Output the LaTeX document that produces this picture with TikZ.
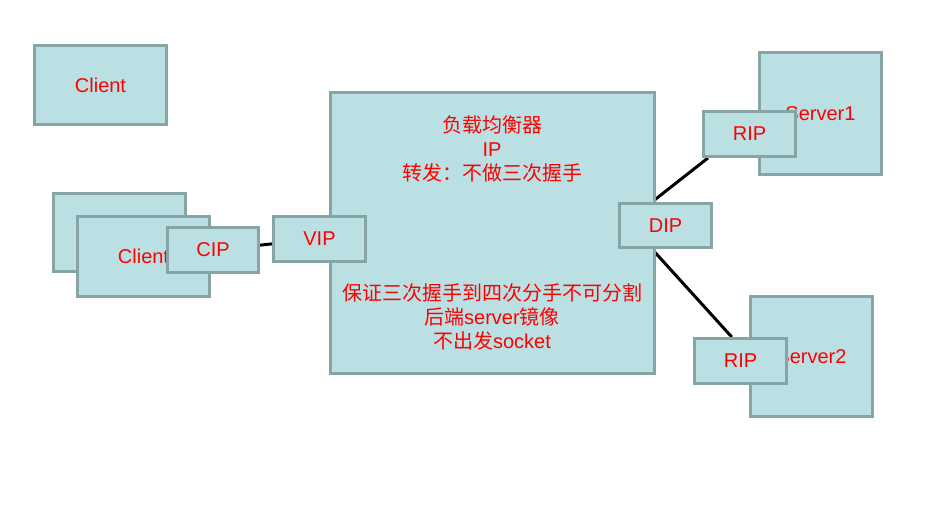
\documentclass[tikz,border=0pt]{standalone}
\usepackage{fontspec}
\setmainfont{Liberation Sans}
\newfontfamily\cjk{Noto Sans CJK SC}
\usetikzlibrary{calc}
\definecolor[named]{BoxFill}{RGB}{187,224,227}
\definecolor[named]{BoxLine}{RGB}{135,165,165}
\definecolor[named]{TextRed}{RGB}{255,0,0}
\pgfdeclarelayer{wires}
\pgfsetlayers{wires,main}
\newcommand{\boxfont}{\fontsize{20}{24}\selectfont}
\tikzset{
  box/.style={draw=BoxLine,fill=BoxFill,line width=3pt,rectangle,
    text=TextRed,font=\boxfont,inner sep=0pt},
  port/.style={box,minimum width=92pt,minimum height=45pt},
  note/.style={text=TextRed,font=\boxfont,align=center,inner sep=0pt},
  wire/.style={line width=3pt,black}
}

\begin{document}
\begin{tikzpicture}[x=1pt,y=-1pt]
  \path[use as bounding box] (0,0) rectangle (943,519);

  % Clients {{{
  \node[box,minimum width=132pt,minimum height=79pt] (client1) at (100.5,85) {Client};
  \node[box,minimum width=132pt,minimum height=78pt] (client2) at (119.5,232.5) {};
  \node[box,minimum width=132pt,minimum height=80pt] (client3) at (143.5,256.5) {Client};
  \node[port,minimum width=91pt] (cip) at (213,250) {CIP};
  % }}}

  % Load balancer {{{
  \node[box,minimum width=324pt,minimum height=281pt] (lb) at (492.5,233) {};
  \node[note] (lbtop) at (492,148.5)
    {{\cjk 负载均衡器}\\IP\\{\cjk 转发：不做三次握手}};
  \node[note] (lbbot) at (492,317)
    {{\cjk 保证三次握手到四次分手不可分割}\\{\cjk 后端}server{\cjk 镜像}\\{\cjk 不出发}socket};
  \node[port] (vip) at (319.5,239) {VIP};
  \node[port,minimum height=44pt] (dip) at (665.5,225.5) {DIP};
  % }}}

  % Servers {{{
  \node[box,minimum width=122pt,minimum height=122pt] (server1) at (820.5,113.5) {Server1};
  \node[port] (rip1) at (749.5,134) {RIP};
  \node[box,minimum width=122pt,minimum height=120pt] (server2) at (811.5,356.5) {Server2};
  \node[port] (rip2) at (740.5,361) {RIP};
  % }}}

  \begin{pgfonlayer}{wires}
    \draw[wire] (cip) -- (vip);
    \draw[wire] (dip.120) -- (rip1.210);
    \draw[wire] (dip.240) -- (rip2.110);
  \end{pgfonlayer}
\end{tikzpicture}
\end{document}
